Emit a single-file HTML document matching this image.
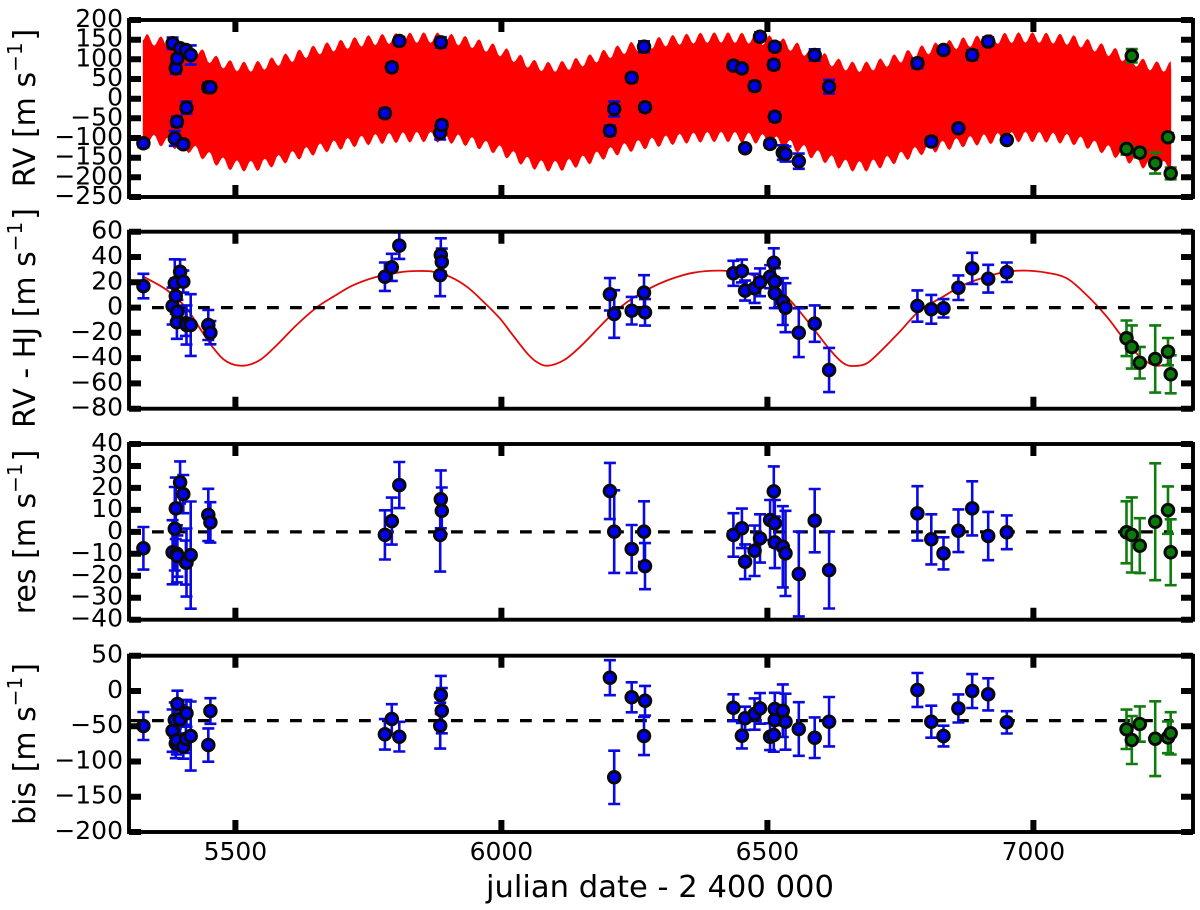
<!DOCTYPE html>
<html lang="en">
<head>
<meta charset="utf-8">
<title>Radial velocity panels</title>
<style>
html,body{margin:0;padding:0;background:#fff;}
svg{display:block;}
text{font-family:"DejaVu Sans","Liberation Sans",sans-serif;fill:#000;}
</style>
</head>
<body>
<svg id="chart" xmlns="http://www.w3.org/2000/svg" width="1200" height="910" viewBox="0 0 1200 910"></svg>
<script>
// ---- x axis ----
const dateTicks = [5500, 6000, 6500, 7000];

// ---- y axis ticks ----
const rvTicks = [200, 150, 100, 50, 0, -50, -100, -150, -200, -250];
const detrendedTicks = [60, 40, 20, 0, -20, -40, -60, -80];
const resTicks = [40, 30, 20, 10, 0, -10, -20, -30, -40];
const bisTicks = [50, 0, -50, -100, -150, -200];

// ---- blue series ----
const blueDates = [5327,5382,5386,5388,5390,5391,5396,5402,5407,5408,5416,5449,5453,5781,5794,5808,5885,5886,5888,
  6204,6212,6245,6268,6270,6436,6452,6458,6476,6486,6505,6512,6514,6514,6529,6534,6559,6589,6616,
  6782,6808,6831,6859,6885,6915,6950];
const blueRV = [-113.6,140.7,-100.9,77.1,-58.5,102.5,128,-116,123.7,-22.9,111,28.8,28.8,-37,79.6,146.6,-87,143,-67,
  -81.4,-26.3,53.4,132,-22,84,77,-126,32,157.6,-115,86.4,132,-45.8,-137,-140.7,-159,111,30.5,
  89.8,-109,123.7,-75.4,111,145,-105];
const blueDetrended = [17,1.2,19.2,9.1,-11.7,-3.3,28.4,20.5,-12.4,-13.8,-13.8,-13.8,-19.9,24.4,31.8,49,25.7,41.6,36,
  10.5,-5.1,-2.5,11.8,-3.8,27.1,28.9,13.4,15.2,20,24.4,35.5,20.5,11.3,4.7,-0.1,-19.9,-12.7,-49.4,
  1.2,-1.4,-0.6,15.7,31,22.8,27.9];
const blueRes = [-7.5,-9.3,1.4,10.7,-10,-11,22.5,17.2,-14,-14,-10.6,7.7,4.3,-1.4,4.9,21.3,-1.4,14.8,9.6,
  18.6,0.1,-7.8,0.1,-15.6,-1.4,1.6,-13.6,-8.6,-3,5.4,18.4,3.9,-4.8,-6.8,-9.8,-19.2,5.1,-17.4,
  8.4,-3.4,-9.8,0.5,10.7,-1.9,-0.2];
const blueRVErr = [9.7,14.6,19,14,13,9.4,9.6,8.7,10,15.5,24.4,11.9,9.2,11.2,10.7,10.5,16.7,13.2,10.6,
  12.8,18.8,10.9,13.8,10.5,9.9,9,7.9,11.5,11,9.1,11.4,10.6,11.7,18.5,19.4,19.3,14.4,17.5,
  12.4,11.4,7.3,9.7,12.3,11,7.7];
const blueBis = [-49.7,-56.3,-41.2,-74.3,-70,-18.5,-40.3,-79,-68,-31.7,-63.9,-76.7,-28.4,-61.5,-39.8,-64.8,-49.2,-5.7,-28,
  18.8,-122.5,-9,-63.9,-13.8,-23.7,-63.4,-38.8,-32.7,-24.7,-64.8,-62.5,-41.2,-25.6,-28,-43.6,-54,-66.3,-43.6,
  1.4,-43.6,-63.9,-24.8,-0.1,-4.8,-44.5];
const blueBisErr = [19.9,30,25,21,20,18.9,20,17,20,19,49,23.6,18.2,21.6,21,21,32.6,27,32,
  24.8,37.8,21.3,27,21,19,18,16.5,22.2,21.7,19,23.6,19,23,37.3,39.7,38,28.8,35,
  24,22.7,14.7,19.9,24,22.7,15.8];

// ---- green series ----
const greenDates = [7175,7185,7200,7229,7253,7258];
const greenRV = [-128,109,-137,-164,-98,-190];
const greenDetrended = [-24.3,-31.2,-43.6,-40.7,-34.9,-52.8];
const greenRes = [-0.2,-1.4,-6.3,4.6,9.9,-9.3];
const greenRVErr = [14.1,17.1,12.5,26.6,10.8,15];
const greenBis = [-54.4,-69.6,-46.9,-67.7,-65.8,-60.1];
const greenBisErr = [27.9,34,25,53,22.5,30];

// ---- long-period model curve ----
const modelDates = [5327,5371,5408,5433,5459,5484,5515,5546,5578,5615,5653,5684,5722,5766,5809,5841,5872,5903,5935,5966,5997,
  6018,6048,6066,6087,6118,6148,6185,6210,6242,6279,6317,6361,6411,6461,6505,6536,6561,6586,6618,6643,6662,6687,6712,
  6749,6787,6825,6868,6912,6950,6987,7025,7063,7100,7138,7169,7200,7229,7257];
const modelValues = [24.4,13.9,-0.6,-16.4,-32.3,-42.8,-46,-41.5,-29.6,-13.8,0.2,8.6,17.8,24.4,27.9,28.9,28.4,24.4,16.5,4.7,-8.5,
  -20,-36,-43,-46,-41.5,-31,-15.1,-4.6,6,15.2,22.3,27.6,29.2,27,19.2,8.6,-3.3,-16.4,-33.6,-44.1,-46.2,-44.1,-34.9,
  -19,-2,7.3,17.8,24.4,28.4,29.2,27.6,23.1,9.9,-7.2,-24.3,-38.8,-46,-44.1];

// ---- full model envelope (top panel), one entry per ripple ----
const bandDates = [5334,5360,5386,5412,5438,5464,5490,5516,5542,5568,5594,5620,5646,5672,5698,5724,5750,5776,5802,5828,5854,5880,5906,5932,5958,
  5984,6010,6036,6062,6088,6114,6140,6166,6192,6218,6244,6270,6296,6322,6348,6374,6400,6426,6452,6478,6504,6530,6556,6582,6608,
  6634,6660,6686,6712,6738,6764,6790,6816,6842,6868,6894,6920,6946,6972,6998,7024,7050,7076,7102,7128,7154,7180,7206,7232,7258];
const bandTop = [164.5,158.5,151.5,141.5,125.5,109.5,98,94.5,96,105,115,125,135,143.5,150,156.5,161.5,164.6,167,168.3,168.9,168.4,165,159.5,151,
  141,128,112,99,94,96,104,113,124.5,135.4,144.5,151,157,162,165.5,168,169,169,168,165.5,161,153.5,143,128,116,
  102,94.5,94.5,102.5,113,124,136,143,149.5,156,160.5,164.4,167.5,168.8,169.2,168,165.5,161.5,152,141,129,114.5,102,95,95];
const bandBottom = [-115.5,-121.5,-128.5,-138.5,-154.5,-170.5,-182,-185.5,-184,-175,-165,-155,-145,-136.5,-130,-123.5,-118.5,-115.4,-113,-111.7,-111.1,-111.6,-115,-120.5,-129,
  -139,-152,-168,-181,-186,-184,-176,-167,-155.5,-144.6,-135.5,-129,-123,-118,-114.5,-112,-111,-111,-112,-114.5,-119,-126.5,-137,-152,-164,
  -178,-185.5,-185.5,-177.5,-167,-156,-144,-137,-130.5,-124,-119.5,-115.6,-112.5,-111.2,-110.8,-112,-114.5,-118.5,-128,-139,-151,-165.5,-178,-185,-185];
const bandRippleDepth = 27;

// ---- reference levels ----
const zeroLevel = 0;
const bisMeanLevel = -42;

const svg = document.getElementById('chart');
const NS = 'http://www.w3.org/2000/svg';

function make(tag, attrs, parent) {
  const el = document.createElementNS(NS, tag);
  for (const k in attrs) el.setAttribute(k, attrs[k]);
  parent.appendChild(el);
  return el;
}

const xLeft = 129, xRight = 1193, dateMin = 5300, dateMax = 7300;
function xScale(d) { return xLeft + (d - dateMin) * (xRight - xLeft) / (dateMax - dateMin); }
function yScaleFor(p) { return function (v) { return p.top + (p.max - v) * (p.bottom - p.top) / (p.max - p.min); }; }
function fmt(v) { return String(v).replace('-', '\u2212'); }

const panels = [
  { key: 'rv', top: 20, bottom: 197, max: 200, min: -250, ticks: rvTicks, label: 'RV [m s', cy: 108,
    blue: blueRV, blueErr: blueRVErr, green: greenRV, greenErr: greenRVErr, level: null, band: true, model: false },
  { key: 'rv-hj', top: 231.7, bottom: 408.7, max: 60, min: -80, ticks: detrendedTicks, label: 'RV - HJ [m s', cy: 318,
    blue: blueDetrended, blueErr: blueRVErr, green: greenDetrended, greenErr: greenRVErr, level: zeroLevel, band: false, model: true },
  { key: 'res', top: 444, bottom: 619.7, max: 40, min: -40, ticks: resTicks, label: 'res [m s', cy: 532,
    blue: blueRes, blueErr: blueRVErr, green: greenRes, greenErr: greenRVErr, level: zeroLevel, band: false, model: false },
  { key: 'bis', top: 655.7, bottom: 832, max: 50, min: -200, ticks: bisTicks, label: 'bis [m s', cy: 744,
    blue: blueBis, blueErr: blueBisErr, green: greenBis, greenErr: greenBisErr, level: bisMeanLevel, band: false, model: false }
];

// Ease between consecutive peak and notch readings so each ripple is rounded.
function easedEdge(keys) {
  const out = [keys[0]];
  for (let i = 0; i < keys.length - 1; i++) {
    const a = keys[i], b = keys[i + 1];
    for (let s = 1; s <= 4; s++) {
      const t = s / 4, e = (1 - Math.cos(Math.PI * t)) / 2;
      out.push([a[0] + (b[0] - a[0]) * t, a[1] + (b[1] - a[1]) * e]);
    }
  }
  return out;
}

function drawBand(g, y) {
  const last = bandDates.length - 1;
  const topKeys = [[bandDates[0] - 8, bandTop[0] - bandRippleDepth * 0.6]];
  const bottomKeys = [[bandDates[0] - 8, bandBottom[0] + bandRippleDepth * 0.6]];
  for (let i = 0; i <= last; i++) {
    topKeys.push([bandDates[i], bandTop[i]]);
    bottomKeys.push([bandDates[i], bandBottom[i]]);
    if (i < last) {
      const mid = (bandDates[i] + bandDates[i + 1]) / 2;
      topKeys.push([mid, (bandTop[i] + bandTop[i + 1]) / 2 - bandRippleDepth]);
      bottomKeys.push([mid, (bandBottom[i] + bandBottom[i + 1]) / 2 + bandRippleDepth]);
    }
  }
  topKeys.push([bandDates[last] + 1, bandTop[last] - bandRippleDepth * 0.8]);
  bottomKeys.push([bandDates[last] + 1, bandBottom[last] + bandRippleDepth * 0.8]);
  const pts = easedEdge(topKeys).concat(easedEdge(bottomKeys).reverse());
  const el = make('polygon', { points: pts.map(p => xScale(p[0]).toFixed(1) + ',' + y(p[1]).toFixed(1)).join(' '), fill: '#ff0000' }, g);
  
  
}

function drawModel(g, y) {
  const pts = modelDates.map((d, i) => [xScale(d), y(modelValues[i])]);
  let path = 'M' + pts[0][0].toFixed(1) + ' ' + pts[0][1].toFixed(1);
  for (let i = 0; i < pts.length - 1; i++) {
    const p0 = pts[Math.max(0, i - 1)], p1 = pts[i], p2 = pts[i + 1], p3 = pts[Math.min(pts.length - 1, i + 2)];
    const c1x = p1[0] + (p2[0] - p0[0]) / 6, c1y = p1[1] + (p2[1] - p0[1]) / 6;
    const c2x = p2[0] - (p3[0] - p1[0]) / 6, c2y = p2[1] - (p3[1] - p1[1]) / 6;
    path += ' C' + c1x.toFixed(1) + ' ' + c1y.toFixed(1) + ' ' + c2x.toFixed(1) + ' ' + c2y.toFixed(1) + ' ' + p2[0].toFixed(1) + ' ' + p2[1].toFixed(1);
  }
  const el = make('path', { d: path, fill: 'none', stroke: '#e00a0a', 'stroke-width': 1.8 }, g);
  
  
}

function drawSeries(g, dates, values, errs, fillCol, errCol, seriesName, y) {
  for (let i = 0; i < dates.length; i++) {
    const x = xScale(dates[i]);
    const hi = y(values[i] + errs[i]), lo = y(values[i] - errs[i]);
    const bar = make('path', { d: 'M' + x.toFixed(1) + ' ' + hi.toFixed(1) + 'V' + lo.toFixed(1) +
      'M' + (x - 6).toFixed(1) + ' ' + hi.toFixed(1) + 'H' + (x + 6).toFixed(1) +
      'M' + (x - 6).toFixed(1) + ' ' + lo.toFixed(1) + 'H' + (x + 6).toFixed(1),
      fill: 'none', stroke: errCol, 'stroke-width': 2.6 }, g);
    
    
  }
  for (let i = 0; i < dates.length; i++) {
    const dot = make('circle', { cx: xScale(dates[i]).toFixed(1), cy: y(values[i]).toFixed(1), r: 5.8, fill: fillCol, stroke: '#0a0a0a', 'stroke-width': 2.9 }, g);
    
    
  }
}

function drawFrame(g, p, y) {
  const spines = make('rect', { x: xLeft, y: p.top, width: xRight - xLeft, height: p.bottom - p.top, fill: 'none', stroke: '#000', 'stroke-width': 3.9 }, g);
  
  
  p.ticks.forEach(function (v) {
    const ty = y(v);
    const t = make('path', { d: 'M' + xLeft + ' ' + ty.toFixed(1) + 'H' + (xLeft + 12) + 'M' + (xRight - 12) + ' ' + ty.toFixed(1) + 'H' + xRight, stroke: '#000', 'stroke-width': 6, fill: 'none' }, g);
    
    
    const lab = make('text', { x: 123, y: (ty + 7).toFixed(1), 'text-anchor': 'end', 'font-size': 25 }, g);
    lab.textContent = fmt(v);
    
    
  });
  dateTicks.forEach(function (d) {
    const x = xScale(d);
    const t = make('path', { d: 'M' + x.toFixed(1) + ' ' + p.top + 'V' + (p.top + 12) + 'M' + x.toFixed(1) + ' ' + (p.bottom - 12) + 'V' + p.bottom, stroke: '#000', 'stroke-width': 6, fill: 'none' }, g);
    
    
  });
}

function drawYLabel(g, p) {
  const t = make('text', { transform: 'translate(35,' + p.cy + ') rotate(-90)', 'text-anchor': 'middle', 'font-size': 30 }, g);
  
  
  t.appendChild(document.createTextNode(p.label));
  const sup = make('tspan', { dy: -13, 'font-size': 20 }, t);
  sup.textContent = '\u22121';
  const close = make('tspan', { dy: 13, dx: 2 }, t);
  close.textContent = ']';
}

panels.forEach(function (p) {
  const y = yScaleFor(p);
  const g = make('g', {}, svg);
  
  
  if (p.band) drawBand(g, y);
  if (p.model) drawModel(g, y);
  if (p.level !== null) {
    const ln = make('line', { x1: xLeft, x2: xScale(7262), y1: y(p.level).toFixed(1), y2: y(p.level).toFixed(1), stroke: '#000', 'stroke-width': 3.2, 'stroke-dasharray': '11.8 11.2' }, g);
    
    
  }
  drawSeries(g, blueDates, p.blue, p.blueErr, '#0000f5', '#0a0ae0', p.key + '-blue', y);
  drawSeries(g, greenDates, p.green, p.greenErr, '#0a7a0a', '#107c10', p.key + '-green', y);
  drawFrame(g, p, y);
  drawYLabel(g, p);
});

dateTicks.forEach(function (d) {
  const t = make('text', { x: xScale(d).toFixed(1), y: 860, 'text-anchor': 'middle', 'font-size': 25 }, svg);
  t.textContent = d;
  
  
});

const xTitle = make('text', { x: 660, y: 897, 'text-anchor': 'middle', 'font-size': 30.6 }, svg);
xTitle.textContent = 'julian date - 2 400 000';


</script>
</body>
</html>
